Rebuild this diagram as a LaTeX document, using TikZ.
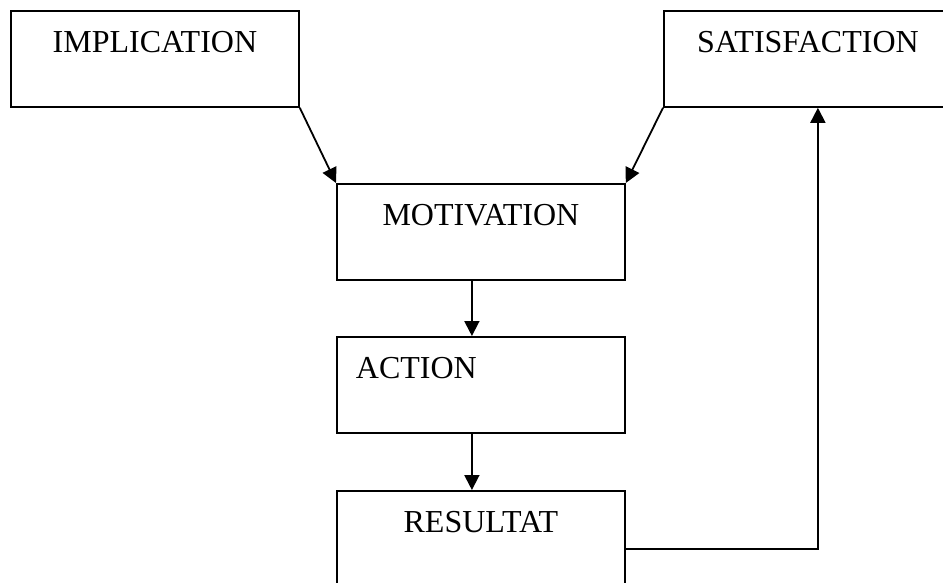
\documentclass[tikz,border=0pt]{standalone}
\usepackage{fontspec}
\setmainfont{Liberation Serif}
\usetikzlibrary{arrows.meta}

\tikzset{
    box/.style={draw, line width=1.8pt, anchor=north west, inner sep=0pt,
        minimum width=288pt, text width=288pt, align=center,
        text height=42pt, text depth=54pt},
    arr/.style={line width=1.8pt, -{Triangle[length=15pt,width=15pt]}}
}

\begin{document}
\begin{tikzpicture}[x=1pt, y=-1pt, font=\fontsize{32}{38}\selectfont]
    \useasboundingbox (0,0) rectangle (943,582);
    \clip (0,0) rectangle (943,582);
    % boxes
    \node[box] (impl) at (10,10) {IMPLICATION};
    \node[box] (sat) at (663,10) {SATISFACTION};
    \node[box] (motiv) at (336,183) {MOTIVATION};
    \node[box, align=left, inner xsep=19pt, text width=250pt] (act) at (336,336) {ACTION};
    \node[box] (res) at (336,490) {RESULTAT};
    % arrows
    \draw[arr] (impl.south east) -- (motiv.north west);
    \draw[arr] (sat.south west) -- (motiv.north east);
    \draw[arr] ([xshift=-9pt]motiv.south) -- ([xshift=-9pt]act.north);
    \draw[arr] ([xshift=-9pt]act.south) -- ([xshift=-9pt]res.north);
    \draw[arr] ([yshift=-10pt]res.east) -| ([xshift=10pt]sat.south);
\end{tikzpicture}
\end{document}
